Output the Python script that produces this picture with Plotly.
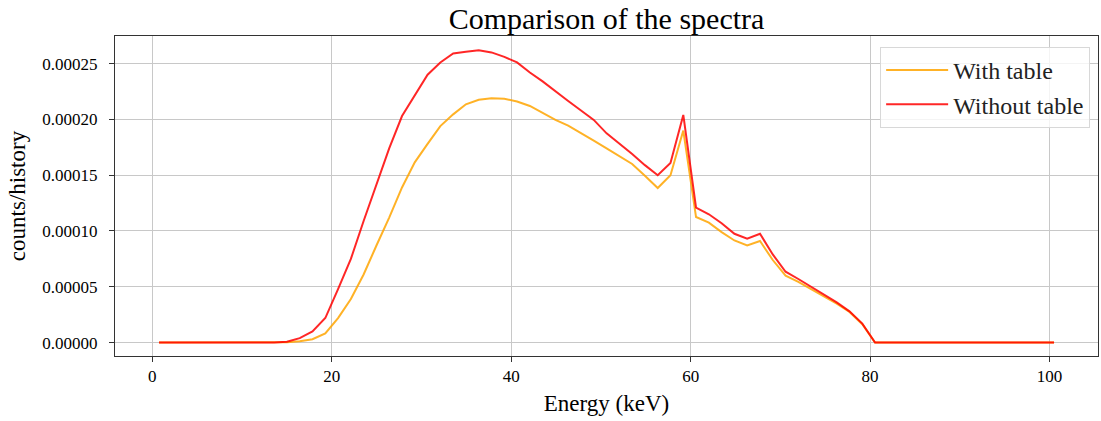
import plotly.graph_objects as go

energy_kev = [0.75, 2.18, 3.6, 5.03, 6.45, 7.88, 9.3, 10.73, 12.15, 13.58,
              15.0, 16.43, 17.85, 19.28, 20.7, 22.13, 23.55, 24.98, 26.4, 27.83,
              29.25, 30.68, 32.1, 33.53, 34.95, 36.38, 37.8, 39.23, 40.65, 42.08,
              43.5, 44.93, 46.35, 47.78, 49.2, 50.63, 52.05, 53.48, 54.9, 56.33,
              57.75, 59.18, 60.6, 62.03, 63.45, 64.88, 66.3, 67.73, 69.15, 70.58,
              72.0, 73.43, 74.85, 76.28, 77.7, 79.13, 80.55, 81.98, 83.4, 84.83,
              86.25, 87.68, 89.1, 90.53, 91.95, 93.38, 94.8, 96.23, 97.65, 99.08,
              100.5]

with_table = [0, 0, 0, 0, 0, 0, 0, 0, 0, 0,
              0.3e-6, 1.2e-6, 3.0e-6, 8.3e-6, 2.2e-5, 3.9e-5, 6.1e-5, 8.7e-5, 1.12e-4, 1.39e-4,
              1.615e-4, 1.78e-4, 1.94e-4, 2.045e-4, 2.135e-4, 2.175e-4, 2.19e-4, 2.185e-4, 2.16e-4, 2.12e-4,
              2.055e-4, 1.995e-4, 1.945e-4, 1.88e-4, 1.81e-4, 1.74e-4, 1.67e-4, 1.60e-4, 1.495e-4, 1.385e-4,
              1.50e-4, 1.90e-4, 1.125e-4, 1.075e-4, 9.9e-5, 9.15e-5, 8.7e-5, 9.1e-5, 7.4e-5, 6.0e-5,
              5.45e-5, 4.8e-5, 4.15e-5, 3.5e-5, 2.75e-5, 1.65e-5, 0, 0, 0, 0,
              0, 0, 0, 0, 0, 0, 0, 0, 0, 0,
              0]

without_table = [0, 0, 0, 0, 0, 0, 0, 0, 0, 0,
                 0.7e-6, 4.0e-6, 1.0e-5, 2.2e-5, 4.8e-5, 7.5e-5, 1.09e-4, 1.42e-4, 1.74e-4, 2.03e-4,
                 2.22e-4, 2.40e-4, 2.51e-4, 2.59e-4, 2.605e-4, 2.62e-4, 2.60e-4, 2.56e-4, 2.51e-4, 2.42e-4,
                 2.34e-4, 2.25e-4, 2.165e-4, 2.08e-4, 1.995e-4, 1.875e-4, 1.785e-4, 1.69e-4, 1.59e-4, 1.50e-4,
                 1.61e-4, 2.04e-4, 1.21e-4, 1.15e-4, 1.07e-4, 9.75e-5, 9.3e-5, 9.75e-5, 7.9e-5, 6.35e-5,
                 5.7e-5, 5.0e-5, 4.33e-5, 3.6e-5, 2.8e-5, 1.7e-5, 0, 0, 0, 0,
                 0, 0, 0, 0, 0, 0, 0, 0, 0, 0,
                 0]

FONT = "Liberation Serif, Times New Roman, serif"

fig = go.Figure()
fig.add_trace(go.Scatter(x=energy_kev, y=with_table, mode="lines", name="With table",
                         line=dict(color="rgba(255,165,0,0.85)", width=2)))
fig.add_trace(go.Scatter(x=energy_kev, y=without_table, mode="lines", name="Without table",
                         line=dict(color="rgba(255,0,0,0.85)", width=2)))

fig.update_layout(
    width=1101, height=421,
    margin=dict(l=115, r=3, t=36, b=65),
    paper_bgcolor="white", plot_bgcolor="white",
    font=dict(family=FONT, color="black", size=17),
    title=dict(text="Comparison of the spectra", x=0.5, xanchor="center",
               xref="paper", y=0.957, yanchor="middle",
               font=dict(family=FONT, size=30, color="black")),
    legend=dict(x=0.992, y=0.966, xanchor="right", yanchor="top",
                bgcolor="rgba(255,255,255,0.8)", bordercolor="#d8d8d8", borderwidth=1,
                font=dict(family=FONT, size=24, color="#222"),
                itemwidth=62, tracegroupgap=4),
    showlegend=True,
)
fig.update_xaxes(
    range=[-4.16, 105.4], dtick=20, tick0=0,
    showgrid=True, gridcolor="#c8c8c8", gridwidth=1,
    showline=True, linecolor="#333", linewidth=1, mirror=True,
    ticks="outside", ticklen=5, tickcolor="#333",
    zeroline=False,
    title=dict(text="Energy (keV)", font=dict(family=FONT, size=23), standoff=9),
    tickfont=dict(family=FONT, size=17),
)
fig.update_yaxes(
    range=[-0.0000120, 0.0002747], dtick=0.00005, tick0=0, tickformat=".5f",
    showgrid=True, gridcolor="#c8c8c8", gridwidth=1,
    showline=True, linecolor="#333", linewidth=1, mirror=True,
    ticks="outside", ticklen=5, tickcolor="#333",
    zeroline=False, ticklabelstandoff=8,
    title=dict(text="counts/history", font=dict(family=FONT, size=23), standoff=10),
    tickfont=dict(family=FONT, size=17),
)

fig.write_html("out.html")
